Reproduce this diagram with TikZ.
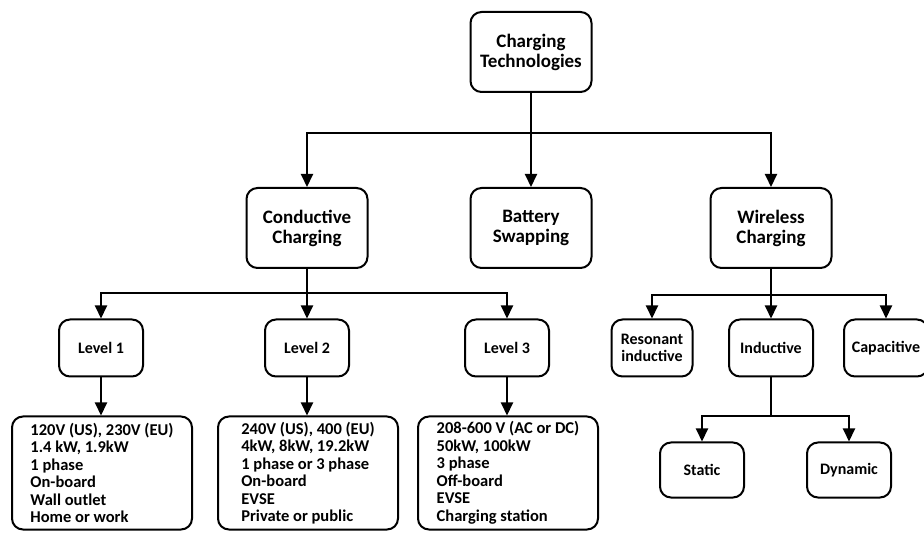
\documentclass[tikz,border=0pt]{standalone}
\usepackage{fontspec}
\setmainfont{Carlito}
\usetikzlibrary{arrows.meta}
\begin{document}
\begin{tikzpicture}[x=1pt,y=-1pt,
  box/.style={draw, line width=2pt, rounded corners=11pt, align=center, inner sep=0pt, font=\bfseries\fontsize{19}{20}\selectfont},
  bigbox/.style={box, minimum width=121pt, minimum height=80pt},
  smallbox/.style={box, minimum width=84pt, minimum height=57pt, font=\bfseries\fontsize{16}{17}\selectfont},
  detail/.style={box, align=left, minimum width=180pt, minimum height=113pt, font=\bfseries\fontsize{16.5}{17.5}\selectfont},
  wire/.style={line width=2pt},
  arr/.style={line width=2pt, -{Triangle[length=13pt,width=12pt]}}]
\useasboundingbox (0,0) rectangle (924,534);

\node[bigbox] (tech) at (531,52) {Charging\\Technologies};
\node[bigbox] (cond) at (307,228) {Conductive\\Charging};
\node[bigbox] (batt) at (531,228) {Battery\\Swapping};
\node[bigbox] (wirel) at (771,228) {Wireless\\Charging};

\node[smallbox] (l1) at (101,348) {Level 1};
\node[smallbox] (l2) at (307,348) {Level 2};
\node[smallbox] (l3) at (507,348) {Level 3};

\node[detail] (d1) at (102,473) {120V (US), 230V (EU)\\1.4 kW, 1.9kW\\1 phase\\On-board\\Wall outlet\\Home or work};
\node[detail] (d2) at (308,473) {240V (US), 400 (EU)\\4kW, 8kW, 19.2kW\\1 phase or 3 phase\\On-board\\EVSE\\Private or public};
\node[detail] (d3) at (508,473) {208-600 V (AC or DC)\\50kW, 100kW\\3 phase\\Off-board\\EVSE\\Charging station};

\node[smallbox, minimum width=81pt] (res) at (652,348) {Resonant\\inductive};
\node[smallbox] (ind) at (771,348) {Inductive};
\node[smallbox] (cap) at (886,348) {Capacitive};

\node[smallbox, minimum height=55pt] (stat) at (702,470) {Static};
\node[smallbox, minimum height=55pt] (dyn) at (849,470) {Dynamic};

% level 0 -> 1
\coordinate (b1) at (531,133);
\draw[wire] (tech.south) -- (b1);
\draw[arr] (b1) -| (cond.north);
\draw[arr] (b1) -- (batt.north);
\draw[arr] (b1) -| (wirel.north);

% conductive
\coordinate (b2) at (307,293);
\draw[wire] (cond.south) -- (b2);
\draw[arr] (b2) -| (l1.north);
\draw[arr] (b2) -- (l2.north);
\draw[arr] (b2) -| (l3.north);

\draw[arr] (l1.south) -- (d1.north -| l1.south);
\draw[arr] (l2.south) -- (d2.north -| l2.south);
\draw[arr] (l3.south) -- (d3.north -| l3.south);

% wireless
\coordinate (b3) at (771,295);
\draw[wire] (wirel.south) -- (b3);
\draw[arr] (b3) -| (res.north);
\draw[arr] (b3) -- (ind.north);
\draw[arr] (b3) -| (cap.north);

% inductive
\coordinate (b4) at (771,416);
\draw[wire] (ind.south) -- (b4);
\draw[arr] (b4) -| (stat.north);
\draw[arr] (b4) -| (dyn.north);
\end{tikzpicture}
\end{document}
